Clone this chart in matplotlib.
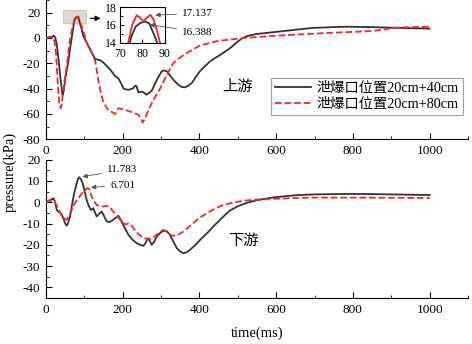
import numpy as np
import matplotlib
matplotlib.use('Agg')
import matplotlib.pyplot as plt
from matplotlib.patches import Rectangle
from matplotlib.ticker import MultipleLocator

plt.rcParams['font.family'] = ['Liberation Serif', 'Noto Sans CJK SC']
plt.rcParams['axes.unicode_minus'] = False

# upstream (上游), 20cm+40cm
up40_t = [0, 10, 15, 20, 24, 28, 33, 38, 43, 46, 50, 55, 58, 62, 66, 70, 73, 75, 77, 79, 81, 83, 85,
          86.5, 88, 92, 97, 105, 115, 122, 128, 141, 150, 158, 170, 180, 189, 196, 202, 215, 228, 232,
          236, 241, 249, 255, 262, 268, 276, 289, 300, 306, 315, 332, 345, 354, 362, 370, 380, 390,
          401, 415, 428, 445, 462, 480, 501, 514, 530, 550, 593, 650, 697, 750, 784, 850, 914, 1000]
up40_p = [0, 0.3, 0.5, 2.0, 0.5, -5, -18, -33, -45, -42, -32, -24, -19, -10, -2, 6, 12, 14.6, 15.8,
          16.2, 16.388, 16.2, 15, 14, 12, 8, 1.5, -3, -9, -13, -16.5, -17.6, -19.5, -22, -26, -30, -32,
          -36, -40, -41, -39.5, -37.7, -38, -43, -42.4, -43, -44.8, -43.5, -41.4, -33, -27, -25.5,
          -26.3, -33, -37, -38.7, -39, -37.8, -35.6, -31, -26.3, -22, -18.4, -15, -11.7, -8, -2.5,
          0.2, 2, 3.2, 4.6, 6.5, 8, 8.6, 8.9, 8.6, 8, 7.4]

# upstream (上游), 20cm+80cm
up80_t = [0, 5, 10, 15, 19, 23, 26, 28, 31, 35, 39, 42, 45, 50, 54, 58, 61, 64, 68, 71, 73.8, 75.5,
          77.5, 79, 80.5, 82, 83.6, 85, 86.5, 87.8, 90, 93, 100, 106, 119, 128, 132, 136, 143, 150,
          162, 172, 180, 184, 189, 206, 228, 241, 247, 252, 257, 262, 270, 280, 297, 315, 332, 354,
          375, 401, 445, 480, 523, 610, 741, 845, 880, 906, 950, 1000]
up80_p = [0, 0.5, 1.0, 0.8, 0.2, -3.8, -12, -22, -38, -53.5, -55.4, -50, -41, -30, -22, -12, -5, 1.5,
          7, 11, 14, 16, 17.1, 16.8, 16.4, 16.8, 17.137, 16.6, 15.3, 14, 11.5, 9.4, 3, -3.8, -11.7,
          -18, -25, -33, -43, -51.4, -56.7, -58.5, -60, -58, -55.4, -56.7, -59, -60.7, -63, -66.8,
          -64, -60.7, -55, -48.8, -40.3, -29, -19.7, -14.4, -10.4, -6, -2.5, -1.2, 0.2, 2, 4.1, 5.4,
          6.6, 8.1, 8.5, 8.9]

# downstream (下游), 20cm+40cm
dn40_t = [0, 10, 19, 23, 28, 33, 36.5, 40, 45, 50, 54, 58, 62.6, 68, 72, 75.6, 80, 84, 87, 91, 95.6,
          100, 106, 111, 116.5, 120, 123, 127, 132, 138, 145, 150, 158, 165, 171, 180, 189, 197, 205,
          215, 225, 236, 245, 254, 260, 265, 270, 275.5, 282, 288.6, 300, 310, 316, 323, 332, 341,
          350, 358, 366, 375.5, 388, 401.6, 420, 436, 455, 471, 480, 501, 523, 550, 593, 650, 697,
          780, 827, 900, 1000]
dn40_p = [0, 0.8, 1.9, 0.5, -3.6, -4.5, -4.8, -5.5, -7.5, -10, -11, -9.5, -6.7, -1, 3, 5.8, 9, 11.2,
          11.783, 10.8, 8.9, 5.5, 1.1, -1.5, -3.6, -3.2, -2.8, -4.5, -6.7, -5.5, -4.4, -6, -9, -9.3,
          -8.8, -7.5, -6.4, -9, -12, -15.3, -17.5, -19.2, -20, -20.5, -19, -16.9, -18, -20, -18.5,
          -16.1, -14, -13.3, -13.8, -15.3, -18.5, -21.6, -23.2, -23.9, -23.6, -22.3, -20.3, -17.7,
          -14.5, -11.4, -8, -5.2, -3.8, -1.8, -0.3, 1.0, 2.3, 3.3, 3.7, 3.9, 3.9, 3.7, 3.4]

# downstream (下游), 20cm+80cm
dn80_t = [0, 5, 10, 15, 20, 23, 28, 32, 36.5, 42, 48, 54, 60, 67, 75, 84, 92, 102, 108, 113, 119,
          125, 132, 140, 149.5, 158, 166, 175.6, 185, 195, 201.6, 208, 215, 222, 228, 240, 254, 262,
          271, 280, 288.6, 300, 306, 315, 325, 332, 345, 358, 370, 384, 400, 419, 440, 462, 480, 501,
          530, 567, 650, 697, 800, 900, 1000]
dn80_p = [0, 0.5, 1.0, 0.3, 0.5, 0, -1.5, -3, -5, -6.5, -7.6, -8.3, -6.5, -3.6, -0.5, 1.9, 3.8, 5.8,
          6.701, 6.2, 2.7, 0.5, -1.25, -1.8, -2, -1.7, -2.3, -4.4, -6.2, -8.5, -9.8, -10.5, -9.8,
          -10.8, -12.2, -14.8, -16.9, -17.1, -17.2, -16.5, -15.3, -13.5, -13, -13.8, -15.3, -15.8,
          -15.2, -13.8, -12, -9.8, -7.3, -5.2, -3, -1.25, -0.5, 0.3, 1.0, 1.4, 2.0, 2.2, 2.2, 2.1, 2.0]

labels = ['泄爆口位置20cm+40cm', '泄爆口位置20cm+80cm']
c_black = '#333333'
c_red = '#ff2222'


def style_axis(ax, ymaj, ymin):
    ax.spines['top'].set_visible(False)
    ax.spines['right'].set_visible(False)
    ax.set_xlim(0, 1100)
    ax.set_xticks([0, 200, 400, 600, 800, 1000])
    ax.xaxis.set_minor_locator(MultipleLocator(100))
    ax.yaxis.set_major_locator(MultipleLocator(ymaj))
    ax.yaxis.set_minor_locator(MultipleLocator(ymin))
    ax.tick_params(which='both', direction='in', labelsize=9.5)
    ax.tick_params(which='major', length=4, pad=4)
    ax.tick_params(which='minor', length=2)


fig = plt.figure(figsize=(4.72, 3.44), dpi=100)

# top panel
ax1 = fig.add_axes([0.0975, 0.595, 0.894, 0.405])
ax1.plot(up40_t, up40_p, color=c_black, lw=1.3, label=labels[0], zorder=3)
ax1.plot(up80_t, up80_p, color=c_red, lw=1.3, ls='--', label=labels[1], zorder=3)
ax1.set_ylim(-80, 30)
style_axis(ax1, 20, 10)
ax1.set_yticks([-80, -60, -40, -20, 0, 20])
ax1.add_patch(Rectangle((45, 11.5), 60, 10.3, fc='#d9d9d9', ec='#f2bf95', lw=0.8, zorder=2))
ax1.annotate('', xy=(150, 15.5), xytext=(108, 15.5),
             arrowprops=dict(arrowstyle='-|>', color='k', lw=0.8, mutation_scale=8))
ax1.text(498, -39, '上游', fontsize=11, ha='center', va='center')
leg = ax1.legend(loc='upper right', bbox_to_anchor=(0.988, 0.44), fontsize=10.3, frameon=True,
                 fancybox=False, edgecolor='#888888', handlelength=2.5, borderpad=0.3,
                 labelspacing=0.2, handletextpad=0.4, borderaxespad=0)
leg.get_frame().set_linewidth(0.8)

# inset
axi = fig.add_axes([0.2536, 0.876, 0.096, 0.103])
axi.plot(up40_t, up40_p, color=c_black, lw=1.3)
axi.plot(up80_t, up80_p, color=c_red, lw=1.3)
axi.set_xlim(70, 90)
axi.set_ylim(14, 18)
axi.set_xticks([70, 80, 90])
axi.set_yticks([14, 16, 18])
axi.yaxis.set_minor_locator(MultipleLocator(1))
axi.tick_params(which='both', direction='in', labelsize=8.5)
axi.tick_params(axis='x', pad=3.5)
axi.tick_params(axis='y', pad=2)
axi.tick_params(which='major', length=3)
axi.tick_params(which='minor', length=2)
arrow = dict(arrowstyle='-|>', color='#555555', lw=0.6, mutation_scale=7)
axi.annotate('17.137', xy=(84.5, 17.1), xytext=(97.5, 17.3), fontsize=8, ha='left', va='center',
             arrowprops=arrow)
axi.annotate('16.388', xy=(82, 16.1), xytext=(97.5, 15.2), fontsize=8, ha='left', va='center',
             arrowprops=arrow)

# bottom panel
ax2 = fig.add_axes([0.0975, 0.1337, 0.894, 0.402])
ax2.plot(dn40_t, dn40_p, color=c_black, lw=1.3, zorder=3)
ax2.plot(dn80_t, dn80_p, color=c_red, lw=1.3, ls='--', zorder=3)
ax2.set_ylim(-45, 20)
style_axis(ax2, 10, 5)
ax2.set_yticks([-40, -30, -20, -10, 0, 10, 20])
ax2.text(514, -18.5, '下游', fontsize=11, ha='center', va='center')
ax2.annotate('11.783', xy=(88, 11.783), xytext=(159, 15.2), fontsize=8, ha='left', va='center',
             arrowprops=arrow)
ax2.annotate('6.701', xy=(110, 6.9), xytext=(167, 8.1), fontsize=8, ha='left', va='center',
             arrowprops=arrow)

fig.text(0.545, 1 - 333 / 344, 'time(ms)', fontsize=10.5, ha='center', va='center')
fig.text(10 / 472, 1 - 172 / 344, 'pressure(kPa)', fontsize=10.5, ha='center', va='center',
         rotation=90)

fig.savefig('out.png', dpi=100)
